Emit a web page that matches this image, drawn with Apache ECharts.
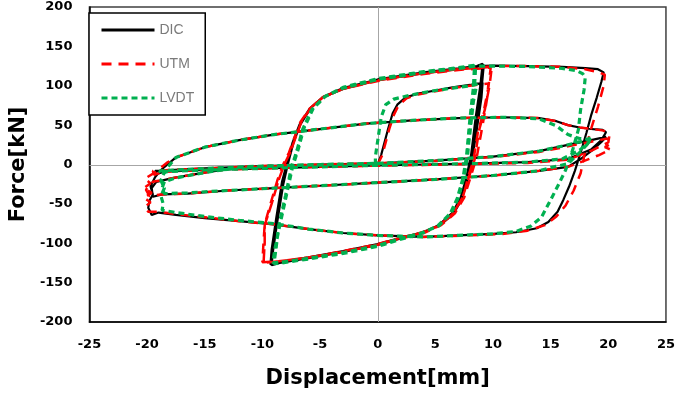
<!DOCTYPE html>
<html>
<head>
<meta charset="utf-8">
<script src="https://cdn.jsdelivr.net/npm/echarts@6/dist/echarts.min.js"></script>
<style>
  html, body { margin: 0; padding: 0; background: #fff; }
  #chart { width: 678px; height: 395px; }
</style>
</head>
<body>
<div id="chart"></div>
<script>
// axis ticks
const xTicks = { min: -25, max: 25, step: 5 };
const yTicks = { min: -200, max: 200, step: 50 };
const seriesNames = ['DIC', 'UTM', 'LVDT'];

// DIC: displacement [mm], force [kN]
const dicFirstLoad = [[0,0],[0.3,12],[0.9,45],[1.3,65],[1.7,76],[2.4,85],[3.5,90],[5,94],[6.5,98],[8,101],[9.1,104]];
const dicCycles9 = [
  [9.0,85],[8.6,45],[8.2,8],[7.8,-18],[7.3,-44],[6.6,-62],[5.5,-76],[4,-86],[2,-94],[0,-102],[-3,-111],[-6,-119],[-8.5,-125],[-9.2,-128],
  [-9.1,-112],[-8.7,-72],[-8.2,-26],[-7.8,0],[-7.3,28],[-6.7,52],[-5.8,72],[-4.7,86],[-3,97],[0,108],[4,117],[7,122],[8.6,125],[9.1,128],
  [8.9,100],[8.5,60],[8.1,12],[7.7,-16],[7.2,-42],[6.5,-61],[5.3,-77],[3.8,-87],[2,-93],[0,-101],[-3,-110],[-6,-118],[-8.6,-124],[-9.3,-127],
  [-9.2,-108],[-8.8,-68],[-8.3,-22],[-7.9,0],[-7.4,27],[-6.8,50],[-5.9,71],[-4.8,85],[-3,96],[0,107],[4,116],[7,121],[8.6,124],[9.2,126],
  [9.0,95],[8.6,55],[8.2,10],[7.8,-17],[7.3,-43],[6.6,-61],[5.4,-77],[3.9,-86],[2,-93],[0,-102],[-3,-111],[-6,-119],[-8.5,-125],[-9.2,-127],
  [-9.1,-110],[-8.7,-70],[-8.2,-24],[-7.8,0],[-7.3,28],[-6.7,51],[-5.8,72],[-4.7,86],[-3,97],[0,108],[4,117],[7,122],[8.6,125]
];
const dicCycles20 = [
  [10,125.5],[13,125],[16,124],[18,122.5],[19.1,121],[19.6,117],
  [19.4,105],[19,85],[18.5,62],[18.1,40],[17.6,15],[17.1,-8],[16.6,-28],[16.1,-45],[15.6,-60],[14.8,-73],[13.8,-81],[12,-86],[10,-88],[7,-90],[4,-92],[2,-91],[0,-90],[-3,-87],[-6,-82],[-9,-76],[-12,-72],[-15,-68],[-17.5,-64],[-19,-61],[-19.6,-64],
  [-19.9,-55],[-19.8,-46],[-19.5,-38],[-19.7,-28],[-19.3,-16],[-18.8,-7],
  [-17.5,9],[-15,22],[-12,31],[-9,38],[-5,45],[-1,52],[3,56],[7,59],[11,60],[14,59],[15.5,55],[16.5,50],[17.5,47],[18.7,45],[19.5,44],[19.8,41],
  [19.4,31],[18.5,19],[16.5,7],[13,3],[8,1],[4,0],[0,-1],[-5,-3],[-10,-5],[-15,-7],[-18.5,-9],[-19.2,-12],
  [-19.3,-8],[-15,-5],[-10,-2],[-5,0],[0,1.5],[5,5],[10,10],[14,17],[16.5,25],[18.5,31],[19.8,35],
  [19.5,30],[18.6,18],[17.5,6],[16.5,-3],[14,-8],[10,-14],[5,-19],[0,-23],[-5,-27],[-9,-30],[-13,-33],[-16.5,-37],[-18.7,-38],[-19.5,-41],
  [-19.6,-30],[-19.2,-22],[-17.7,-17],[-14.5,-9],[-12,-4],[-8,-1.5],[-3,0],[2,2]
];

// UTM
const utmFirstLoad = [[0,0],[0.4,12],[1.0,45],[1.4,63],[1.8,75],[2.5,84],[3.5,89],[5,93],[6.5,97],[8,100],[9.6,103]];
const utmCycles9 = [
  [9.5,85],[9.1,50],[8.6,10],[8.1,-14],[7.5,-42],[6.7,-62],[5.5,-77],[4,-87],[2,-94],[0,-102],[-3,-111],[-6,-118],[-8.6,-123],[-9.9,-125],
  [-9.8,-100],[-9.8,-77],[-9.2,-50],[-8.6,-20],[-8.1,0],[-7.6,15],[-7.1,35],[-6.6,55],[-5.8,72],[-4.7,86],[-3,96],[0,107],[4,116],[7,121],[9,123],[9.9,124],
  [9.7,100],[9.3,70],[8.8,44],[8.4,6],[8.0,-12],[7.4,-40],[6.6,-61],[5.4,-77],[3.8,-87],[2,-93],[0,-101],[-3,-110],[-6,-118],[-8.6,-123],[-10,-124],
  [-9.9,-98],[-9.8,-76],[-9.3,-50],[-8.7,-20],[-8.2,0],[-7.7,15],[-7.2,35],[-6.7,54],[-5.9,71],[-4.8,85],[-3,96],[0,106],[4,115],[7,120],[9,122],[9.8,123],
  [9.6,98],[9.2,68],[8.7,42],[8.3,5],[7.9,-13],[7.4,-41],[6.6,-61],[5.5,-77],[3.9,-86],[2,-93],[0,-102],[-3,-111],[-6,-118],[-8.6,-123],[-9.9,-125],
  [-9.8,-99],[-9.8,-77],[-9.2,-50],[-8.6,-20],[-8.1,0],[-7.6,15],[-7.1,35],[-6.6,55],[-5.8,72],[-4.7,86],[-3,96],[0,107],[4,116],[7,121],[9,123.5]
];
const utmCycles20 = [
  [10,125],[13,125],[16,124],[18,121],[19.2,117],[19.7,114],
  [19.6,100],[19.1,73],[18.5,45],[18,17],[17.6,-11],[17,-33],[16.3,-52],[15.5,-66],[14.5,-77],[13,-84],[11,-88],[8,-90],[4,-92],[2,-91],[0,-90],[-3,-87],[-6,-82],[-9,-76],[-12,-72],[-15,-67],[-17.5,-63],[-19,-60],[-19.9,-60],
  [-20.2,-54],[-19.7,-48],[-20.3,-42],[-19.6,-36],[-20.3,-30],[-19.7,-24],[-20.2,-18],[-19.3,-10],
  [-18.3,2],[-17.5,9],[-15,22],[-12,31],[-9,38],[-5,45],[-1,52],[3,56],[7,59],[11,60],[14,59],[15.5,55],[16.5,50],[17.5,47],[18.7,45],[19.6,43],[20.1,37],
  [20,28],[18.6,18],[16.5,6],[13,2],[8,0.5],[4,-0.5],[0,-1.5],[-5,-3],[-10,-5],[-15,-7],[-18.5,-9],[-19.4,-13],
  [-19.5,-8],[-15,-5],[-10,-2],[-5,0],[0,1.5],[5,4.5],[10,9.5],[14,16],[16.5,23],[18.5,29],[19.9,33],[20.3,27],[19.7,22],[20.2,19],
  [19.2,12],[17.8,4],[16.5,-3],[14,-8],[10,-14],[5,-19],[0,-23],[-5,-27],[-9,-30],[-13,-33],[-16.5,-37],[-18.8,-38],[-19.8,-40],
  [-20.1,-32],[-19.5,-22],[-17.7,-17],[-14.5,-9],[-12,-4],[-8,-1.5],[-3,0],[2,2]
];

// LVDT
const lvdtFirstLoad = [[-0.2,0],[-0.2,10],[0.1,40],[0.3,60],[0.7,76],[1.4,83],[2.5,87],[3.5,90],[5,94],[6.5,97],[8,100],[8.6,102]];
const lvdtCycles9 = [
  [8.3,80],[8.0,40],[7.7,5],[7.4,-18],[6.9,-44],[6.3,-62],[5.3,-77],[3.9,-87],[2,-94],[0,-103],[-3,-112],[-6,-120],[-8.3,-125],[-9.0,-126],
  [-8.8,-105],[-8.6,-80],[-8.0,-40],[-7.5,-5],[-7.0,18],[-6.5,45],[-5.7,70],[-4.6,86],[-3,97],[0,108],[4,117],[7,122],[8.5,125],
  [8.4,100],[8.1,60],[7.8,12],[7.5,-15],[7.0,-42],[6.4,-61],[5.2,-78],[3.7,-88],[2,-95],[0,-104],[-3,-113],[-6,-120],[-8.4,-124],[-9.1,-125],
  [-8.9,-106],[-8.5,-78],[-7.9,-38],[-7.4,-4],[-6.9,19],[-6.4,46],[-5.6,71],[-4.5,87],[-3,98],[0,109],[4,118],[7,123],[8.4,126],
  [8.3,98],[8.0,58],[7.7,10],[7.4,-17],[6.9,-43],[6.3,-62],[5.3,-78],[3.8,-87],[2,-94],[0,-103],[-3,-112],[-6,-119],[-8.3,-124],[-9.0,-126],
  [-8.8,-104],[-8.6,-79],[-8.0,-40],[-7.5,-5],[-7.0,18],[-6.5,45],[-5.7,70],[-4.6,86],[-3,97],[0,108],[4,117],[7,122],[8.5,125]
];
const lvdtCycles20 = [
  [10,125],[13,124.5],[16,122],[17.3,119],[17.8,115],[18,111],
  [17.9,95],[17.6,70],[17.4,44],[16.9,18],[16.3,-7],[15.7,-25],[15,-45],[14.2,-67],[13.3,-78],[12,-85],[10,-88],[7,-90],[4,-92],[2,-91],[0,-90],[-3,-87],[-6,-82],[-9,-75],[-12,-71],[-15,-66],[-17.5,-61],[-18.7,-58],
  [-18.6,-50],[-18.8,-40],[-18.5,-30],[-18.8,-20],[-18.5,-10],[-18.3,-5],
  [-17.5,9],[-15,22],[-12,31],[-9,38],[-5,45],[-1,52],[3,56],[7,59],[11,60],[14,58],[15.5,49],[16.5,38],[17.5,33],[18.3,32],[18.5,36],
  [18.3,28],[17.5,18],[16,7],[13,3],[8,1],[4,0],[0,-1],[-5,-3],[-10,-5],[-15,-7],[-18.3,-9],[-18.8,-13],
  [-18.9,-8],[-15,-5],[-10,-2],[-5,0],[0,1.5],[5,5],[10,10],[14,17],[16.5,25],[17.8,30],[18.4,33],
  [18.2,26],[17.5,15],[16.5,1],[15,-4],[14,-8],[10,-14],[5,-19],[0,-23],[-5,-27],[-9,-30],[-13,-33],[-16.5,-36],[-18.5,-37],
  [-18.7,-30],[-18.5,-22],[-17.5,-17],[-14.5,-9],[-12,-4],[-8,-1.5],[-3,0],[2,2]
];

const dicPath = dicFirstLoad.concat(dicCycles9, dicCycles20);
const utmPath = utmFirstLoad.concat(utmCycles9, utmCycles20);
const lvdtPath = lvdtFirstLoad.concat(lvdtCycles9, lvdtCycles20);

const chart = echarts.init(document.getElementById('chart'), null, { renderer: 'canvas' });

const tickFont = { fontFamily: 'DejaVu Sans', fontWeight: 'bold', fontSize: 13, color: '#000' };
const nameFont = { fontFamily: 'DejaVu Sans', fontWeight: 'bold', fontSize: 21, color: '#000' };

const option = {
  animation: false,
  backgroundColor: '#fff',
  grid: {
    left: 85, right: 9, top: 7, bottom: 73,
    show: true, borderColor: '#404040', borderWidth: 1.5
  },
  legend: {
    data: seriesNames,
    orient: 'vertical',
    left: 89, top: 13,
    itemWidth: 53, itemHeight: 14, itemGap: 20,
    padding: [10, 11, 10, 11],
    backgroundColor: '#fff',
    borderColor: '#000', borderWidth: 1.5,
    itemStyle: { opacity: 0 },
    lineStyle: { width: 3 },
    textStyle: { fontFamily: 'Liberation Sans', fontSize: 14, color: '#7a7a7a', lineHeight: 14 }
  },
  xAxis: {
    type: 'value',
    min: xTicks.min, max: xTicks.max, interval: xTicks.step,
    name: 'Displacement[mm]', nameLocation: 'middle', nameGap: 46,
    nameTextStyle: nameFont,
    axisLine: { onZero: false, lineStyle: { color: '#000', width: 1.5 } },
    axisTick: { show: false },
    splitLine: { show: false },
    axisLabel: Object.assign({ margin: 16 }, tickFont)
  },
  yAxis: {
    type: 'value',
    min: yTicks.min, max: yTicks.max, interval: yTicks.step,
    name: 'Force[kN]', nameLocation: 'middle', nameGap: 58,
    nameTextStyle: nameFont,
    axisLine: { show: true, onZero: false, lineStyle: { color: '#000', width: 1.5 } },
    axisTick: { show: false },
    splitLine: { show: false },
    axisLabel: Object.assign({ margin: 17 }, tickFont)
  },
  series: [
    {
      name: 'DIC', type: 'line', data: dicPath,
      symbol: 'none', z: 2,
      lineStyle: { color: '#000', width: 2.2 },
      itemStyle: { color: '#000' }
    },
    {
      name: 'UTM', type: 'line', data: utmPath,
      symbol: 'none', z: 3,
      lineStyle: { color: '#ff0000', width: 2.5, type: [10, 7] },
      itemStyle: { color: '#ff0000' }
    },
    {
      name: 'LVDT', type: 'line', data: lvdtPath,
      symbol: 'none', z: 4,
      lineStyle: { color: '#00b050', width: 3.2, type: [6, 4] },
      itemStyle: { color: '#00b050' }
    }
  ]
};

chart.setOption(option);

// light lines through zero, placed through the chart's own scales
const toPx = (pt) => chart.convertToPixel({ gridIndex: 0 }, pt);
const vTop = toPx([0, yTicks.max]), vBot = toPx([0, yTicks.min]);
const hLeft = toPx([xTicks.min, 0]), hRight = toPx([xTicks.max, 0]);
const zeroStyle = { stroke: '#a6a6a6', lineWidth: 1 };
chart.setOption({
  graphic: [
    { type: 'line', z: 1, silent: true, shape: { x1: Math.round(vTop[0]) + 0.5, y1: vTop[1], x2: Math.round(vBot[0]) + 0.5, y2: vBot[1] }, style: zeroStyle },
    { type: 'line', z: 1, silent: true, shape: { x1: hLeft[0], y1: Math.round(hLeft[1]) + 0.5, x2: hRight[0], y2: Math.round(hRight[1]) + 0.5 }, style: zeroStyle }
  ]
});

window.addEventListener('resize', () => chart.resize());
</script>
</body>
</html>
